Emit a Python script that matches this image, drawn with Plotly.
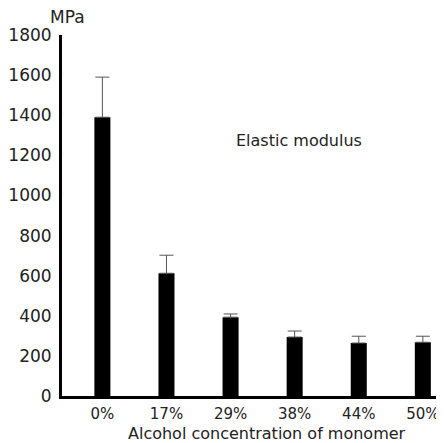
import plotly.graph_objects as go

categories = ["0%", "17%", "29%", "38%", "44%", "50%"]
modulus = [1390, 612, 393, 294, 264, 268]
err_upper = [1590, 702, 409, 324, 298, 298]
y_ticks = [0, 200, 400, 600, 800, 1000, 1200, 1400, 1600, 1800]

err_plus = [u - v for u, v in zip(err_upper, modulus)]
x_pos = list(range(len(categories)))

# page body has an 8px margin; figure occupies window pixels 8..444 / 8..443
OFF = 8
W, H = 444 - OFF, 443 - OFF
l, r, t, b = 59 - OFF, 0, 35 - OFF, 443 - 396
pw, ph = W - l - r, H - t - b

font_family = "DejaVu Sans, Liberation Sans, Arial, sans-serif"
txt = "#222222"

fig = go.Figure()
fig.add_trace(go.Bar(
    x=x_pos, y=modulus, width=0.25,
    marker=dict(color="black", line=dict(width=0)),
    error_y=dict(type="data", array=err_plus, arrayminus=[0]*len(modulus),
                 symmetric=False, color="#555555", thickness=1, width=7),
))

fig.update_layout(
    width=W, height=H,
    margin=dict(l=l, r=r, t=t, b=b),
    paper_bgcolor="white", plot_bgcolor="white",
    showlegend=False,
    font=dict(family=font_family, color=txt),
    xaxis=dict(range=[-0.63, 5.33], tickvals=x_pos, ticktext=categories,
               showline=True, linecolor="black", linewidth=3,
               showgrid=False, zeroline=False, ticks="",
               tickfont=dict(size=15, family=font_family, color=txt),
               ticklabelstandoff=2),
    yaxis=dict(range=[0, 1800], tickvals=y_ticks,
               showline=True, linecolor="black", linewidth=3,
               showgrid=False, zeroline=False, ticks="",
               tickfont=dict(size=17, family=font_family, color=txt),
               ticklabelstandoff=4),
)

def add_text(text, px, py, size):
    # px, py are window pixel coordinates
    fx, fy = px - OFF, py - OFF
    fig.add_annotation(text=text, x=(fx - l) / pw, y=(H - b - fy) / ph,
                       xref="paper", yref="paper", showarrow=False,
                       xanchor="center", yanchor="middle",
                       font=dict(size=size, family=font_family, color=txt))

add_text("MPa", 65, 17, 17)
add_text("Elastic modulus", 298, 140, 16)
add_text("Alcohol concentration of monomer", 266, 434, 16)

fig.write_html("out.html")
